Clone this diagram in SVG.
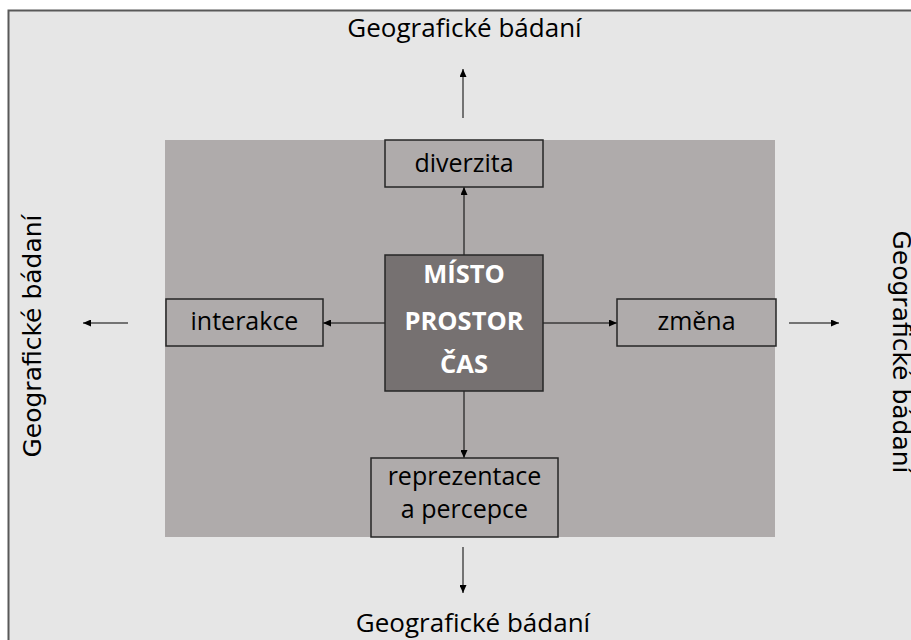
<svg xmlns="http://www.w3.org/2000/svg" width="911" height="640" viewBox="0 0 911 640">
  <style>
    .frame { fill: #e6e6e6; stroke: #595959; stroke-width: 2; }
    .panel { fill: #afabab; }
    .box { fill: #afabab; stroke: #262626; stroke-width: 1.5; }
    .core { fill: #767171; stroke: #262626; stroke-width: 1.5; }
    .lbl { font-family: "Open Sans", "Liberation Sans", sans-serif; font-size: 25px; fill: #000; text-anchor: middle; }
    .core-lbl { font-family: "Open Sans", "Liberation Sans", sans-serif; font-size: 25.5px; font-weight: bold; fill: #fff; text-anchor: middle; }
    .outer { font-family: "Open Sans", "Liberation Sans", sans-serif; font-size: 26px; fill: #000; text-anchor: middle; }
    .side { font-family: "DejaVu Sans", "Liberation Sans", sans-serif; font-size: 25px; fill: #000; text-anchor: middle; }
    .link { stroke: #000; stroke-width: 1; fill: none; marker-end: url(#head); }
  </style>
  <defs>
    <marker id="head" markerUnits="userSpaceOnUse" markerWidth="9" markerHeight="7" refX="8" refY="3.5" orient="auto">
      <path d="M0,0 L8,3.5 L0,7 z" fill="#000"/>
    </marker>
  </defs>

  <rect width="911" height="640" fill="#ffffff"/>
  <!-- page frame runs past the right and bottom edges -->
  <rect class="frame" x="8.5" y="10.5" width="1000" height="1000"/>
  <rect class="panel" x="165" y="140" width="610" height="397"/>

  <!-- outer labels -->
  <text class="outer" x="464.5" y="37">Geografické bádaní</text>
  <text class="outer" x="473" y="632">Geografické bádaní</text>
  <text class="side" transform="translate(41,336) rotate(-90)">Geografické bádaní</text>
  <text class="side" transform="translate(893,352) rotate(90)">Geografické bádaní</text>

  <g id="connectors">
    <line class="link" x1="464" y1="255" x2="464" y2="187"/>
    <line class="link" x1="385" y1="323" x2="323" y2="323"/>
    <line class="link" x1="543" y1="323" x2="617" y2="323"/>
    <line class="link" x1="464" y1="391" x2="464" y2="458"/>
    <line class="link" x1="463" y1="118" x2="463" y2="69"/>
    <line class="link" x1="463" y1="547" x2="463" y2="593"/>
    <line class="link" x1="128" y1="323" x2="83" y2="323"/>
    <line class="link" x1="789" y1="323" x2="839" y2="323"/>
  </g>

  <g id="diverzita">
    <rect class="box" x="385" y="140" width="158" height="47"/>
    <text class="lbl" x="464" y="172">diverzita</text>
  </g>

  <g id="interakce">
    <rect class="box" x="166" y="299" width="157" height="47"/>
    <text class="lbl" x="244.5" y="330">interakce</text>
  </g>

  <g id="zmena">
    <rect class="box" x="617" y="299" width="159" height="47"/>
    <text class="lbl" x="696.5" y="330">změna</text>
  </g>

  <g id="reprezentace">
    <rect class="box" x="371" y="458" width="187" height="79"/>
    <text class="lbl" x="464.5" y="485">reprezentace</text>
    <text class="lbl" x="464.5" y="518">a percepce</text>
  </g>

  <g id="misto">
    <rect class="core" x="385" y="255" width="158" height="136"/>
    <text class="core-lbl" x="464" y="283">MÍSTO</text>
    <text class="core-lbl" x="464" y="330">PROSTOR</text>
    <text class="core-lbl" x="464" y="373">ČAS</text>
  </g>
</svg>
